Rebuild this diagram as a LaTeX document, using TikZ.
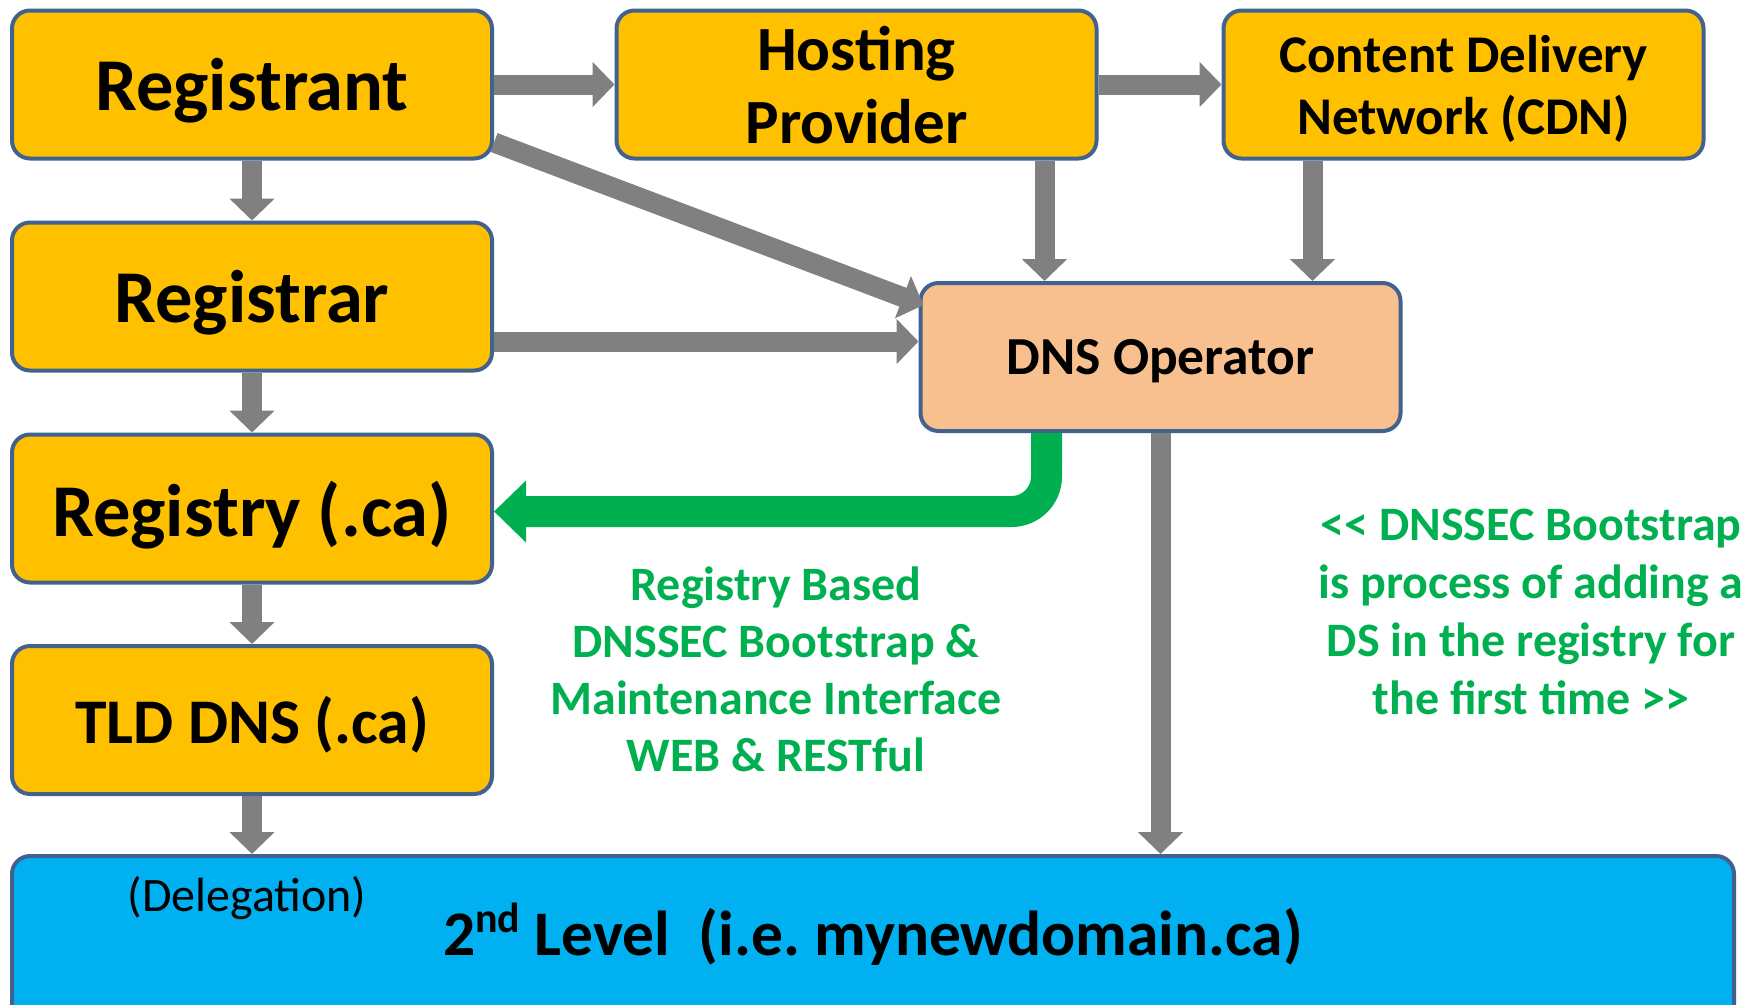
\documentclass[tikz,border=0pt]{standalone}
\usepackage{fontspec}
\setmainfont{Carlito}
\usetikzlibrary{arrows.meta}
\definecolor{boxgold}{HTML}{FFC000}
\definecolor{boxedge}{HTML}{41628F}
\definecolor{dnsfill}{HTML}{F8C08F}
\definecolor{lvlfill}{HTML}{00B0F0}
\definecolor{arrowgray}{HTML}{808080}
\definecolor{txtgreen}{HTML}{00B050}
\frenchspacing
\begin{document}
\begin{tikzpicture}[x=1pt,y=-1pt,
  box/.style={draw=boxedge, line width=4pt, rounded corners=18pt, minimum width=480pt, minimum height=148pt, inner sep=0pt, align=center, text depth=0pt},
  gold/.style={box, fill=boxgold},
  garrow/.style={draw=arrowgray, line width=20pt, -{Triangle[width=44pt,length=22pt]}},
  greenarrow/.style={draw=txtgreen, line width=31pt, rounded corners=35pt, -{Triangle[width=60pt,length=32pt]}},
  note/.style={text=txtgreen, align=center}
]
\useasboundingbox (0,0) rectangle (1760,1004);
\clip (0,0) rectangle (1760,1004);

\node[gold, font=\fontsize{74.5}{82}\selectfont\bfseries] (registrant) at (252,84.5) {Registrant};
\node[gold, font=\fontsize{74.5}{82}\selectfont\bfseries] (registrar) at (252,296.5) {Registrar};
\node[gold, font=\fontsize{74.5}{82}\selectfont\bfseries] (registry) at (252,508.5) {Registry (.ca)};
\node[gold, font=\fontsize{63.6}{70}\selectfont\bfseries] (tld) at (252,720) {TLD DNS (.ca)};
\node[gold, font=\fontsize{63}{73}\selectfont\bfseries] (hosting) at (856.5,84.5) {Hosting\\Provider};
\node[gold, font=\fontsize{53}{62}\selectfont\bfseries] (cdn) at (1463.5,84.5) {Content Delivery\\Network (CDN)};
\node[box, fill=dnsfill, font=\fontsize{53.5}{60}\selectfont\bfseries] (dnsop) at (1160.5,357) {DNS Operator};
\node[box, fill=lvlfill, minimum width=1722pt, minimum height=200pt] (second) at (873,956) {};

\node[font=\fontsize{63.5}{72}\selectfont\bfseries, anchor=base] (lvltext) at (873,955) {2\raisebox{0.36em}{\fontsize{42}{44}\selectfont nd} Level\ \ (i.e. mynewdomain.ca)};
\node[font=\fontsize{48}{56}\selectfont, anchor=base] (deleg) at (247,911) {(Delegation)};

\node[note, font=\fontsize{48}{57}\selectfont\bfseries] (rbtext) at (776,669) {Registry Based\\DNSSEC Bootstrap \&\\Maintenance Interface\\WEB \& RESTful};
\node[note, font=\fontsize{48}{58}\selectfont\bfseries] (dstext) at (1531,612) {<{}< DNSSEC Bootstrap\\is process of adding a\\DS in the registry for\\the first time >{}>};

\draw[garrow] (registrant.east) -- (hosting.west);
\draw[garrow] (hosting.east) -- (cdn.west);
\draw[garrow] (registrant.south) -- (registrar.north);
\draw[garrow] (registrar.south) -- (registry.north);
\draw[garrow] (registry.south) -- (tld.north);
\draw[garrow] (tld.south) -- (second.north -| tld.south);
\draw[garrow] ([yshift=18pt]registrant.south east) -- ([xshift=5pt,yshift=-24pt]dnsop.north west);
\draw[garrow] ([yshift=-45pt]registrar.east) -- ([yshift=-45pt]registrar.east -| dnsop.west);
\draw[garrow] ([xshift=188pt]hosting.south) -- ([xshift=188pt]hosting.south |- dnsop.north);
\draw[garrow] ([xshift=-151pt]cdn.south) -- ([xshift=-151pt]cdn.south |- dnsop.north);
\draw[garrow] (dnsop.south) -- (dnsop.south |- second.north);
\draw[greenarrow] ([xshift=-114pt]dnsop.south) |- ([yshift=-3pt]registry.east);
\end{tikzpicture}
\end{document}
